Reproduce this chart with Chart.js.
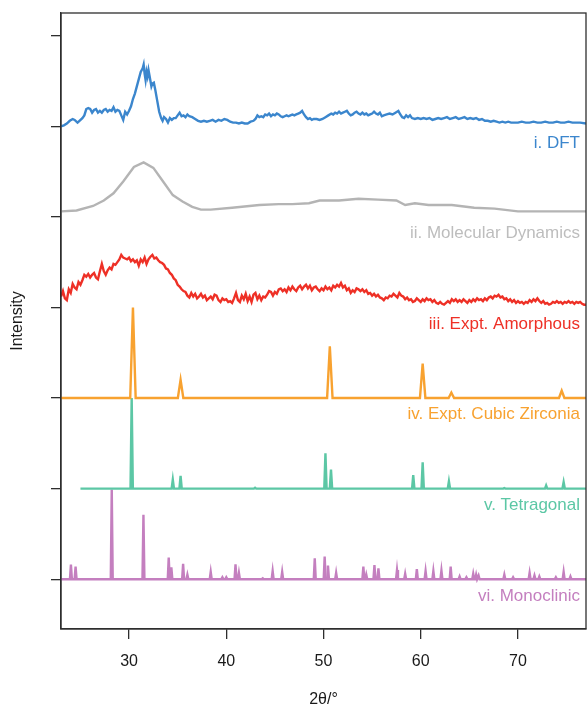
<!DOCTYPE html>
<html>
<head>
<meta charset="utf-8">
<script src="https://cdn.jsdelivr.net/npm/chart.js@4"></script>
<style>
  body { margin:0; background:#fff; }
  canvas { display:block; }
</style>
</head>
<body>
<canvas id="canvasXrd" width="587" height="706"></canvas>
<script>

// x axis ticks (2 theta, degrees) and the y tick marks (one per pattern baseline)
let angleTicks=[30,40,50,60,70]
let intensityTicks=[0,1,2,3,4,5,6]

let seriesNames=['i. DFT','ii. Molecular Dynamics','iii. Expt. Amorphous','iv. Expt. Cubic Zirconia','v. Tetragonal','vi. Monoclinic']

// i. DFT (already offset, baseline at 5)
let dftAngle=[23.0,23.3,23.6,23.9,24.2,24.4,24.7,24.9,25.2,25.4,25.6,25.8,26.0,26.2,26.4,26.6,26.8,27.0,27.2,27.4,27.6,27.8,28.0,28.2,28.4,28.6,28.8,29.0,29.2,29.4,29.6,29.8,30.0,30.2,30.4,30.6,30.8,31.0,31.2,31.4,31.5,31.6,31.7,31.8,31.9,32.0,32.1,32.2,32.3,32.4,32.55,32.7,32.9,33.1,33.3,33.45,33.6,33.8,34.0,34.2,34.4,34.6,34.8,35.0,35.2,35.4,35.6,35.8,36.0,36.2,36.5,36.8,37.1,37.4,37.7,38.0,38.3,38.6,38.9,39.2,39.5,39.8,40.1,40.4,40.7,41.0,41.3,41.6,41.9,42.2,42.5,42.8,43.0,43.2,43.4,43.6,43.8,44.0,44.2,44.4,44.6,44.8,45.0,45.2,45.4,45.6,45.8,46.0,46.2,46.4,46.6,46.8,47.0,47.2,47.4,47.6,47.8,48.0,48.2,48.4,48.6,48.8,49.0,49.3,49.6,49.9,50.2,50.5,50.8,51.0,51.2,51.4,51.6,51.8,52.0,52.2,52.4,52.6,52.8,53.0,53.2,53.4,53.6,53.8,54.0,54.2,54.4,54.6,54.8,55.0,55.2,55.4,55.6,55.8,56.0,56.2,56.5,56.8,57.1,57.4,57.7,57.9,58.1,58.3,58.5,58.7,58.9,59.1,59.4,59.7,60.0,60.3,60.6,60.9,61.2,61.5,61.8,62.1,62.4,62.7,63.0,63.3,63.6,63.9,64.2,64.5,64.8,65.1,65.4,65.7,66.0,66.3,66.6,66.9,67.2,67.5,67.8,68.1,68.4,68.7,69.0,69.3,69.6,70.0,70.4,70.8,71.2,71.6,72.0,72.4,72.8,73.2,73.6,74.0,74.4,74.8,75.2,75.6,76.0,76.4,77.0]
let dftIntensity=[5.00,5.01,5.03,5.06,5.08,5.07,5.04,5.06,5.09,5.12,5.19,5.20,5.19,5.15,5.18,5.19,5.15,5.17,5.15,5.18,5.19,5.16,5.18,5.17,5.21,5.16,5.18,5.17,5.12,5.07,5.16,5.13,5.17,5.22,5.30,5.36,5.44,5.52,5.60,5.64,5.68,5.58,5.51,5.60,5.55,5.62,5.56,5.50,5.44,5.47,5.48,5.40,5.28,5.16,5.09,5.06,5.10,5.08,5.04,5.09,5.07,5.09,5.09,5.12,5.15,5.11,5.12,5.10,5.13,5.11,5.10,5.08,5.06,5.05,5.06,5.05,5.06,5.07,5.05,5.07,5.06,5.08,5.07,5.05,5.04,5.04,5.03,5.04,5.03,5.03,5.05,5.06,5.08,5.12,5.10,5.11,5.10,5.13,5.12,5.14,5.11,5.13,5.12,5.14,5.13,5.11,5.10,5.11,5.12,5.11,5.12,5.13,5.12,5.13,5.14,5.15,5.17,5.13,5.10,5.08,5.09,5.07,5.08,5.08,5.07,5.08,5.10,5.12,5.14,5.13,5.15,5.14,5.16,5.14,5.15,5.16,5.17,5.14,5.12,5.13,5.15,5.16,5.14,5.13,5.15,5.13,5.14,5.12,5.13,5.14,5.16,5.14,5.13,5.15,5.11,5.12,5.13,5.14,5.13,5.15,5.17,5.13,5.10,5.09,5.12,5.10,5.12,5.09,5.08,5.09,5.08,5.09,5.08,5.09,5.07,5.08,5.09,5.08,5.09,5.10,5.08,5.09,5.10,5.08,5.09,5.10,5.08,5.09,5.08,5.09,5.07,5.08,5.06,5.06,5.05,5.06,5.05,5.04,5.05,5.04,5.05,5.04,5.04,5.04,5.05,5.04,5.04,5.05,5.04,5.04,5.05,5.04,5.04,5.05,5.04,5.04,5.05,5.04,5.04,5.04,5.03]

// ii. Molecular Dynamics (baseline near 4)
let mdAngle=[23.0,24.6,26.3,27.4,28.4,29.4,30.5,31.5,32.5,33.5,34.5,35.5,36.5,37.4,38.4,40.6,43.4,45.4,46.8,48.5,49.6,51.6,53.6,55.6,57.5,58.4,59.4,60.8,63.2,65.5,67.6,70.0,72.7,77.0]
let mdIntensity=[4.06,4.07,4.12,4.18,4.26,4.39,4.55,4.60,4.54,4.39,4.24,4.17,4.11,4.08,4.08,4.10,4.13,4.14,4.14,4.15,4.18,4.18,4.20,4.19,4.18,4.13,4.15,4.13,4.13,4.10,4.09,4.06,4.06,4.06]

// iii. Expt. Amorphous, measured every 0.2 deg from 23 to 77
let amorphStart=23
let amorphStep=0.2
let amorphIntensity=[
3.12,3.18,3.10,3.08,3.20,3.16,3.26,3.22,3.20,3.28,
3.25,3.30,3.36,3.34,3.37,3.33,3.36,3.38,3.33,3.31,
3.40,3.48,3.40,3.36,3.41,3.44,3.42,3.48,3.47,3.50,
3.53,3.58,3.55,3.54,3.53,3.55,3.51,3.53,3.50,3.52,
3.46,3.53,3.50,3.55,3.48,3.53,3.56,3.58,3.54,3.55,
3.52,3.50,3.49,3.47,3.43,3.42,3.38,3.36,3.32,3.30,
3.25,3.23,3.20,3.18,3.17,3.13,3.11,3.16,3.12,3.15,
3.10,3.12,3.15,3.11,3.13,3.08,3.10,3.12,3.09,3.14,
3.13,3.08,3.06,3.10,3.08,3.09,3.06,3.07,3.05,3.10,
3.16,3.08,3.06,3.13,3.09,3.15,3.07,3.12,3.06,3.14,
3.16,3.09,3.13,3.08,3.12,3.11,3.14,3.18,3.17,3.13,
3.17,3.15,3.20,3.21,3.18,3.20,3.17,3.22,3.19,3.23,
3.20,3.18,3.22,3.24,3.20,3.23,3.25,3.21,3.24,3.19,
3.22,3.23,3.20,3.18,3.21,3.19,3.23,3.20,3.22,3.19,
3.24,3.22,3.25,3.23,3.27,3.22,3.24,3.19,3.21,3.16,
3.19,3.17,3.21,3.20,3.18,3.20,3.17,3.19,3.15,3.16,
3.13,3.15,3.12,3.14,3.11,3.10,3.08,3.11,3.10,3.13,
3.12,3.15,3.13,3.11,3.16,3.13,3.12,3.09,3.11,3.08,
3.09,3.06,3.07,3.10,3.08,3.06,3.09,3.07,3.10,3.08,
3.09,3.06,3.08,3.05,3.04,3.06,3.04,3.03,3.05,3.07,
3.05,3.09,3.07,3.09,3.06,3.08,3.06,3.09,3.07,3.05,
3.08,3.06,3.09,3.07,3.10,3.08,3.09,3.07,3.10,3.08,
3.11,3.12,3.10,3.13,3.12,3.14,3.11,3.12,3.09,3.10,
3.07,3.09,3.06,3.08,3.05,3.07,3.05,3.06,3.04,3.06,
3.05,3.08,3.06,3.09,3.07,3.10,3.07,3.05,3.07,3.04,
3.05,3.03,3.04,3.06,3.05,3.07,3.05,3.06,3.04,3.06,
3.05,3.07,3.05,3.06,3.04,3.06,3.05,3.06,3.04,3.03,
3.03]

// iv. Expt. Cubic Zirconia: peak positions and heights above baseline 2
let cubicBase=2
let cubicPeaks=[30.4,35.3,50.65,60.2,63.15,74.5]
let cubicHeights=[1.0,0.2,0.57,0.38,0.06,0.08]

// v. Tetragonal (baseline 1, pattern starts at 25)
let tetraBase=1
let tetraPeaks=[30.27,34.5,35.3,42.96,50.2,50.77,59.23,60.2,62.9,68.6,72.9,74.7]
let tetraHeights=[1.0,0.1,0.14,0.01,0.39,0.21,0.15,0.29,0.08,0.005,0.035,0.07]

// vi. Monoclinic (baseline 0)
let monoBase=0
let monoPeaks=[24.02,24.5,28.22,31.48,34.08,34.35,35.56,36.0,38.4,39.6,40.0,40.95,41.3,43.75,44.77,45.75,49.1,50.12,50.46,51.3,54.1,54.4,55.24,55.65,57.56,58.4,59.6,60.5,61.3,62.13,63.08,64.0,64.7,65.4,65.7,65.95,68.6,69.5,71.2,71.7,72.2,73.9,74.7,75.4]
let monoHeights=[0.16,0.14,0.99,0.71,0.24,0.13,0.17,0.05,0.08,0.02,0.02,0.165,0.07,0.01,0.09,0.08,0.23,0.25,0.15,0.07,0.14,0.05,0.155,0.12,0.10,0.06,0.11,0.09,0.09,0.095,0.14,0.03,0.02,0.06,0.05,0.04,0.05,0.02,0.07,0.04,0.03,0.02,0.08,0.03]


function toPoints(xs,ys){
    let arr=[]
    for (let i=0;i<xs.length;i++){
        arr.push({x:xs[i],y:ys[i]})
    }
    return arr;
}

function amorphPoints(){
    let arr=[]
    for (let i=0;i<amorphIntensity.length;i++){
        arr.push({x:amorphStart+i*amorphStep,y:amorphIntensity[i]})
    }
    return arr;
}

// each reflection drawn as a narrow spike on its baseline
function stickPattern(pos,heights,base,start,end,halfWidth){
    let arr=[{x:start,y:base}]
    for (let i=0;i<pos.length;i++){
        arr.push({x:pos[i]-halfWidth,y:base})
        arr.push({x:pos[i],y:base+heights[i]})
        arr.push({x:pos[i]+halfWidth,y:base})
    }
    arr.push({x:end,y:base})
    return arr;
}


let colors=['#3b86cd','#b4b4b4','#ee3026','#f8a230','#5cc7a5','#c47fbf']
let labelColors=['#3b86cd','#bdbdbd','#ee3026','#f8a230','#5cc7a5','#c47fbf']

let fontFamily="'Liberation Sans', Arial, Helvetica, sans-serif"


let seriesLabels={
    id:'seriesLabels',
    afterDatasetsDraw(chart,args,opts){
        let ctx=chart.ctx
        let yScale=chart.scales.y
        ctx.save()
        ctx.font='17px '+fontFamily
        ctx.textAlign='right'
        ctx.textBaseline='middle'
        for (let i=0;i<seriesNames.length;i++){
            ctx.fillStyle=labelColors[i]
            ctx.fillText(seriesNames[i],chart.chartArea.right-6,yScale.getPixelForValue(opts.labelY[i]))
        }
        ctx.restore()
    }
}

let frameBox={
    id:'frameBox',
    afterDraw(chart){
        let a=chart.chartArea
        let ctx=chart.ctx
        ctx.save()
        ctx.strokeStyle='#2e2e2e'
        ctx.lineWidth=1.3
        ctx.strokeRect(a.left,a.top,a.right-a.left,a.bottom-a.top)
        ctx.restore()
    }
}


function lineSet(label,data,color){
    return {
        label:label,
        data:data,
        borderColor:color,
        backgroundColor:color,
        borderWidth:2.4,
        pointRadius:0,
        fill:false,
        tension:0
    }
}


let myChart={
    type:'line',
    data:{
        datasets:[
            lineSet(seriesNames[0],toPoints(dftAngle,dftIntensity),colors[0]),
            lineSet(seriesNames[1],toPoints(mdAngle,mdIntensity),colors[1]),
            lineSet(seriesNames[2],amorphPoints(),colors[2]),
            lineSet(seriesNames[3],stickPattern(cubicPeaks,cubicHeights,cubicBase,23,77,0.28),colors[3]),
            lineSet(seriesNames[4],stickPattern(tetraPeaks,tetraHeights,tetraBase,25,77,0.12),colors[4]),
            lineSet(seriesNames[5],stickPattern(monoPeaks,monoHeights,monoBase,23,77,0.1),colors[5])
        ]
    },
    options:{
        responsive:false,
        animation:false,
        layout:{padding:{top:13,right:1,left:0,bottom:0}},
        plugins:{
            legend:{display:false},
            tooltip:{enabled:false},
            seriesLabels:{labelY:[4.81,3.82,2.81,1.82,0.82,-0.19]}
        },
        scales:{
            x:{
                type:'linear',
                min:23,
                max:77,
                afterBuildTicks:function(s){ s.ticks=angleTicks.map(v=>({value:v})) },
                afterFit:function(s){ s.height=77 },
                grid:{drawOnChartArea:false,drawTicks:true,tickLength:10,color:'#2e2e2e',lineWidth:1.3},
                border:{color:'#2e2e2e',width:1.3},
                ticks:{color:'#1a1a1a',font:{family:fontFamily,size:16},padding:13,maxRotation:0},
                title:{display:true,text:'2θ/°',color:'#1a1a1a',font:{family:fontFamily,size:16},padding:{top:0,bottom:-3}}
            },
            y:{
                type:'linear',
                min:-0.55,
                max:6.25,
                afterBuildTicks:function(s){ s.ticks=intensityTicks.map(v=>({value:v})) },
                afterFit:function(s){ s.width=61 },
                grid:{drawOnChartArea:false,drawTicks:true,tickLength:10,color:'#2e2e2e',lineWidth:1.3},
                border:{color:'#2e2e2e',width:1.3},
                ticks:{callback:function(){ return '' },padding:0},
                title:{display:true,text:'Intensity',color:'#1a1a1a',font:{family:fontFamily,size:16},padding:{top:8,bottom:0}}
            }
        }
    },
    plugins:[seriesLabels,frameBox]
};

let ctx=document.getElementById("canvasXrd").getContext("2d");
new Chart(ctx,myChart);

</script>
</body>
</html>
